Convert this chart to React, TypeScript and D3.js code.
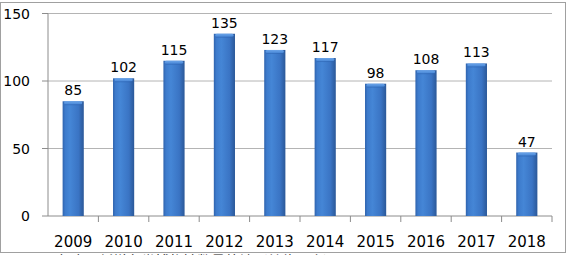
import React from "react";
import * as d3 from "d3";

const years = ["2009","2010","2011","2012","2013","2014","2015","2016","2017","2018"];
const values = [85,102,115,135,123,117,98,108,113,47];
const yTicks = [0,50,100,150];

export default function App() {
  const W = 570, H = 255;
  const left = 48, right = 552, top = 13.5, bottom = 216;
  const x = d3.scaleBand<string>().domain(years).range([left, right]).paddingInner(0.58).paddingOuter(0.29);
  const xb = d3.scaleBand<string>().domain(years).range([left, right]);
  const y = d3.scaleLinear().domain([0,150]).range([bottom, top]);
  const font = "'DejaVu Sans', Verdana, sans-serif";
  return (
    <svg width={W} height={H} style={{position:"absolute",left:0,top:0}}>
      <defs>
        <linearGradient id="barg" x1="0" x2="1" y1="0" y2="0">
          <stop offset="0" stopColor="#2f63ad"/>
          <stop offset="0.12" stopColor="#3d7bcc"/>
          <stop offset="0.35" stopColor="#4586d6"/>
          <stop offset="0.75" stopColor="#3a74c4"/>
          <stop offset="1" stopColor="#2b5898"/>
        </linearGradient>
        <linearGradient id="capg" x1="0" x2="0" y1="0" y2="1">
          <stop offset="0" stopColor="#6aa3e8"/>
          <stop offset="1" stopColor="#4a89d8"/>
        </linearGradient>
      </defs>
      <rect x={0.5} y={2.5} width={565} height={250} fill="#fff" stroke="#a0a0a0"/>
      {yTicks.map(t => (
        <g key={t}>
          {t > 0 && <line x1={left} x2={right} y1={y(t)} y2={y(t)} stroke="#b4b4b4"/>}
          <line x1={42} x2={left} y1={y(t)} y2={y(t)} stroke="#8c8c8c"/>
          <text x={30} y={y(t)} dy="0.36em" textAnchor="end" fontFamily={font} fontSize={14} fill="#000">{t}</text>
        </g>
      ))}
      <line x1={left} x2={left} y1={top} y2={bottom} stroke="#8c8c8c"/>
      <line x1={left} x2={right} y1={bottom} y2={bottom} stroke="#8c8c8c"/>
      {years.map((yr) => {
        const xr = (xb(yr) as number) + xb.bandwidth();
        return <line key={"t"+yr} x1={xr} x2={xr} y1={bottom} y2={bottom+6} stroke="#8c8c8c"/>;
      })}
      {years.map((yr, i) => {
        const bx = x(yr) as number, bw = x.bandwidth();
        const by = y(values[i]);
        const cx = (xb(yr) as number) + xb.bandwidth()/2;
        return (
          <g key={yr}>
            <rect x={bx} y={by} width={bw} height={bottom-by} fill="url(#barg)"/>
            <rect x={bx+1.5} y={by} width={bw-3} height={3} rx={1.5} fill="url(#capg)"/>
            <line x1={bx+2} x2={bx+bw-2} y1={by+3.5} y2={by+3.5} stroke="#2f66b4" strokeOpacity={0.6}/>
            <text x={cx} y={by-6} textAnchor="middle" fontFamily={font} fontSize={14} fill="#000">{values[i]}</text>
            <text x={cx} y={247} textAnchor="middle" fontFamily={font} fontSize={15} fill="#000">{yr}</text>
          </g>
        );
      })}
      <text x={26} y={266} fontFamily="'Noto Sans CJK SC', sans-serif" fontSize={14} fill="#222">■ 历年全国新增各类博物馆数量统计（单位：个）</text>
    </svg>
  );
}
